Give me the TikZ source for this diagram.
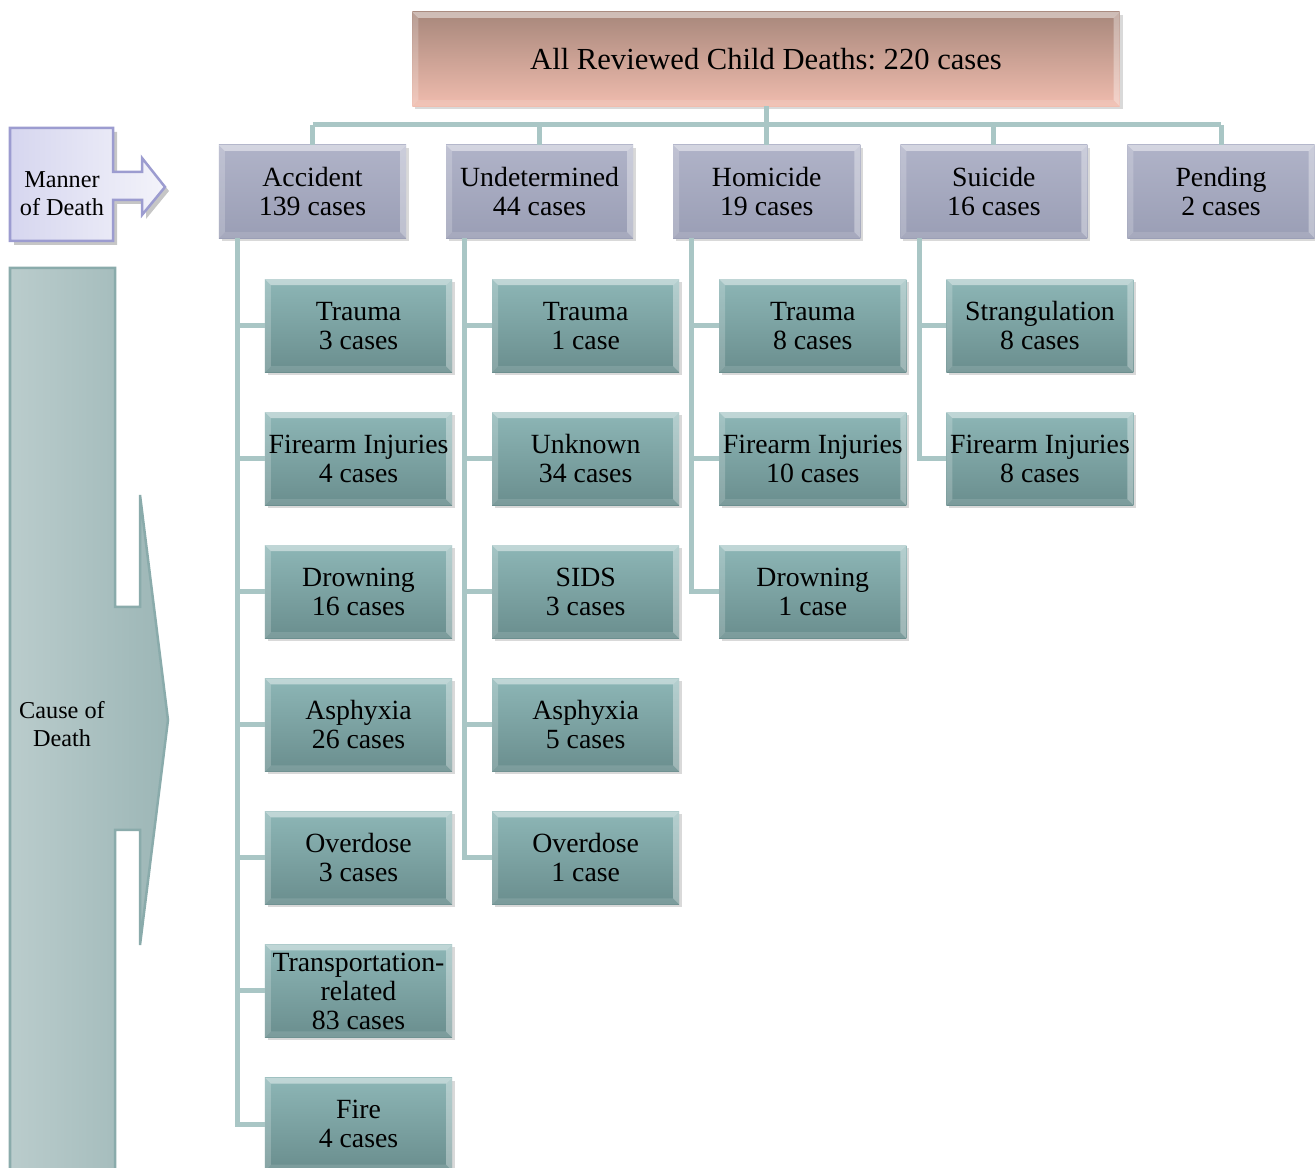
\documentclass[tikz,border=0pt]{standalone}
\usepackage{fontspec}
\setmainfont{Liberation Serif}
\usepackage{xcolor}
\usetikzlibrary{positioning}
\usetikzlibrary{shadows}

\definecolor{linkc}{HTML}{A9C6C5}
\definecolor{alltop}{HTML}{A7877B}
\definecolor{allbot}{HTML}{F0BCAE}
\definecolor{mantop}{HTML}{B0B3C8}
\definecolor{manbot}{HTML}{9A9EB5}
\definecolor{caustop}{HTML}{8DB6B6}
\definecolor{causbot}{HTML}{6A8E8E}
\definecolor{mannerl}{HTML}{D6D6EF}
\definecolor{mannerr}{HTML}{F3F3FA}
\definecolor{mannerd}{HTML}{9C9CD0}
\definecolor{causel}{HTML}{BACCCC}
\definecolor{causem}{HTML}{E0E9E9}
\definecolor{causer}{HTML}{9CB6B6}
\definecolor{caused}{HTML}{8AABAB}

\begin{document}
\frenchspacing
\begin{tikzpicture}[
    x = .01cm,
    y = -.01cm,
    font = \fontsize{7.9}{8.25}\selectfont,
    bevel/.style = {
      path picture = {
        \path (path picture bounding box.north west) coordinate (bnw)
              (path picture bounding box.north east) coordinate (bne)
              (path picture bounding box.south east) coordinate (bse)
              (path picture bounding box.south west) coordinate (bsw);
        \fill[white, opacity=.45] (bnw) -- (bne) -- ([shift={(-.06cm,-.06cm)}]bne) -- ([shift={(.06cm,-.06cm)}]bnw) -- cycle;
        \fill[white, opacity=.2] (bnw) -- ([shift={(.06cm,-.06cm)}]bnw) -- ([shift={(.06cm,.06cm)}]bsw) -- (bsw) -- cycle;
        \fill[white, opacity=.35] (bne) -- ([shift={(-.06cm,-.06cm)}]bne) -- ([shift={(-.06cm,.06cm)}]bse) -- (bse) -- cycle;
        \fill[white, opacity=.12] (bsw) -- ([shift={(.06cm,.06cm)}]bsw) -- ([shift={(-.06cm,.06cm)}]bse) -- (bse) -- cycle;
      }
    },
    allf/.style = {
      rectangle,
      top color=alltop,
      bottom color=allbot,
      bevel,
      drop shadow={shadow xshift=.03cm, shadow yshift=-.03cm, opacity=.3},
      minimum width=7.07cm,
      minimum height=.94cm,
      inner sep=0pt,
      outer sep=0pt,
      font=\fontsize{8.7}{9}\selectfont
    },
    mannerf/.style = {
      rectangle,
      top color=mantop,
      bottom color=manbot,
      bevel,
      drop shadow={shadow xshift=.03cm, shadow yshift=-.03cm, opacity=.3},
      minimum width=1.87cm,
      minimum height=.93cm,
      inner sep=.5pt,
      outer sep=0pt,
      align=center
    },
    causef/.style = {
      rectangle,
      top color=caustop,
      bottom color=causbot,
      bevel,
      drop shadow={shadow xshift=.03cm, shadow yshift=-.03cm, opacity=.3},
      minimum width=1.87cm,
      minimum height=.93cm,
      inner sep=.5pt,
      outer sep=0pt,
      align=center
    },
    labelf/.style = {
      align=center,
      inner sep=0pt,
      font=\fontsize{6.9}{8}\selectfont
    },
    link/.style = {
      draw=linkc,
      line width=.05cm
    }
  ]
    \useasboundingbox (0,0) rectangle (1315,1168);

    % side arrows
    \draw[draw=mannerd, line width=.025cm, left color=mannerl, right color=mannerr,
      drop shadow={shadow xshift=.04cm, shadow yshift=-.04cm, opacity=.45}]
      (10,128) -- (113,128) -- (113,172) -- (142,172) -- (142,158) -- (165,187) -- (142,215)
      -- (142,200) -- (113,200) -- (113,241) -- (10,241) -- cycle;
    \draw[draw=caused, line width=.025cm, left color=causel, middle color=causem, right color=causer]
      (10,268) -- (115,268) -- (115,607) -- (140,607) -- (140,495) -- (168,720) -- (140,945)
      -- (140,830) -- (115,830) -- (115,1175) -- (10,1175) -- cycle;
    \node[labelf] (manner) at (62,194) {Manner\\of Death};
    \node[labelf] (cause) at (62,724) {Cause of\\Death};

    % top and manner of death
    \node[allf] (all) at (766,59) {All Reviewed Child Deaths: 220 cases};
    \node[mannerf] (acc) at (312.5,191.5) {Accident\\139 cases};
    \node[mannerf, right=.4cm of acc] (und) {Undetermined\\44 cases};
    \node[mannerf, right=.4cm of und] (hom) {Homicide\\19 cases};
    \node[mannerf, right=.4cm of hom] (sui) {Suicide\\16 cases};
    \node[mannerf, right=.4cm of sui] (pen) {Pending\\2 cases};
    \coordinate (bar) at (0,125);

    % causes
    \node[causef, below=.41cm of acc.south west, anchor=north west, xshift=.46cm] (acctra) {Trauma\\3 cases};
    \node[causef, below=.4cm of acctra] (accfir) {Firearm Injuries\\4 cases};
    \node[causef, below=.4cm of accfir] (accdro) {Drowning\\16 cases};
    \node[causef, below=.4cm of accdro] (accasp) {Asphyxia\\26 cases};
    \node[causef, below=.4cm of accasp] (accove) {Overdose\\3 cases};
    \node[causef, below=.4cm of accove] (acctrn) {Transportation-\\related\\83 cases};
    \node[causef, below=.4cm of acctrn] (accfre) {Fire\\4 cases};

    \node[causef, below=.41cm of und.south west, anchor=north west, xshift=.46cm] (undtra) {Trauma\\1 case};
    \node[causef, below=.4cm of undtra] (undunk) {Unknown\\34 cases};
    \node[causef, below=.4cm of undunk] (undsid) {SIDS\\3 cases};
    \node[causef, below=.4cm of undsid] (undasp) {Asphyxia\\5 cases};
    \node[causef, below=.4cm of undasp] (undove) {Overdose\\1 case};

    \node[causef, below=.41cm of hom.south west, anchor=north west, xshift=.46cm] (homtra) {Trauma\\8 cases};
    \node[causef, below=.4cm of homtra] (homfir) {Firearm Injuries\\10 cases};
    \node[causef, below=.4cm of homfir] (homdro) {Drowning\\1 case};

    \node[causef, below=.41cm of sui.south west, anchor=north west, xshift=.46cm] (suistr) {Strangulation\\8 cases};
    \node[causef, below=.4cm of suistr] (suifir) {Firearm Injuries\\8 cases};

    % links
    \draw[link] (all.south) -- (all.south |- bar);
    \draw[link] (acc.north |- bar) -- (pen.north |- bar);
    \draw[link] (acc.north) -- (acc.north |- bar);
    \draw[link] (und.north) -- (und.north |- bar);
    \draw[link] (hom.north) -- (hom.north |- bar);
    \draw[link] (sui.north) -- (sui.north |- bar);
    \draw[link] (pen.north) -- (pen.north |- bar);

    \draw[link] ([xshift=.19cm]acc.south west) |- (acctra.west);
    \draw[link] ([xshift=.19cm]acc.south west) |- (accfir.west);
    \draw[link] ([xshift=.19cm]acc.south west) |- (accdro.west);
    \draw[link] ([xshift=.19cm]acc.south west) |- (accasp.west);
    \draw[link] ([xshift=.19cm]acc.south west) |- (accove.west);
    \draw[link] ([xshift=.19cm]acc.south west) |- (acctrn.west);
    \draw[link] ([xshift=.19cm]acc.south west) |- (accfre.west);

    \draw[link] ([xshift=.18cm]und.south west) |- (undtra.west);
    \draw[link] ([xshift=.18cm]und.south west) |- (undunk.west);
    \draw[link] ([xshift=.18cm]und.south west) |- (undsid.west);
    \draw[link] ([xshift=.18cm]und.south west) |- (undasp.west);
    \draw[link] ([xshift=.18cm]und.south west) |- (undove.west);

    \draw[link] ([xshift=.18cm]hom.south west) |- (homtra.west);
    \draw[link] ([xshift=.18cm]hom.south west) |- (homfir.west);
    \draw[link] ([xshift=.18cm]hom.south west) |- (homdro.west);

    \draw[link] ([xshift=.19cm]sui.south west) |- (suistr.west);
    \draw[link] ([xshift=.19cm]sui.south west) |- (suifir.west);
  \end{tikzpicture}
\end{document}
